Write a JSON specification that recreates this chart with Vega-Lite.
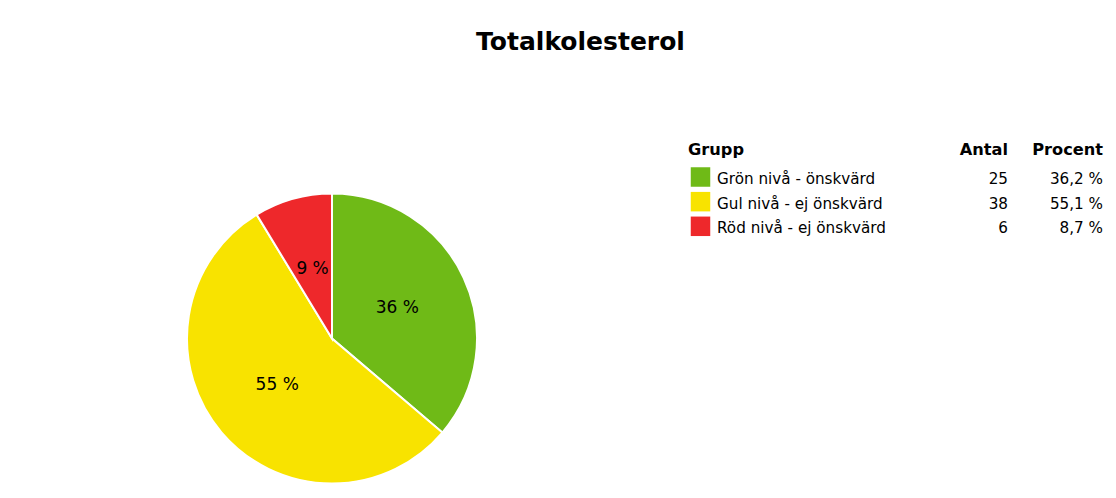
{
  "$schema": "https://vega.github.io/schema/vega-lite/v6.json",
  "description": "Totalkolesterol: pie chart with a table legend.",
  "width": 1116,
  "height": 498,
  "padding": 0,
  "autosize": {"type": "fit", "contains": "padding"},
  "background": "white",
  "config": {"view": {"stroke": null}, "text": {"font": "DejaVu Sans"}},
  "datasets": {
    "grupper": [
      {"grupp": "Grön nivå - önskvärd", "antal": 25, "procent": "36,2 %", "etikett": "36 %"},
      {"grupp": "Gul nivå - ej önskvärd", "antal": 38, "procent": "55,1 %", "etikett": "55 %"},
      {"grupp": "Röd nivå - ej önskvärd", "antal": 6, "procent": "8,7 %", "etikett": "9 %"}
    ],
    "rubriker": [
      {"grupp": "Grupp", "antal": "Antal", "procent": "Procent", "titel": "Totalkolesterol"}
    ]
  },
  "data": {"name": "grupper"},
  "layer": [
    {
      "mark": {"type": "arc", "x": 332, "y": 338.5, "outerRadius": 145, "stroke": "white", "strokeWidth": 2},
      "encoding": {
        "theta": {"field": "antal", "type": "quantitative", "stack": true},
        "color": {
          "field": "grupp",
          "type": "nominal",
          "scale": {
            "domain": ["Grön nivå - önskvärd", "Gul nivå - ej önskvärd", "Röd nivå - ej önskvärd"],
            "range": ["#6fba17", "#f8e300", "#ee282b"]
          },
          "legend": null
        }
      }
    },
    {
      "mark": {"type": "text", "x": 332, "y": 338.5, "radius": 72, "fontSize": 17, "color": "black", "align": "center", "baseline": "middle"},
      "encoding": {
        "theta": {"field": "antal", "type": "quantitative", "stack": true},
        "detail": {"field": "grupp", "type": "nominal"},
        "text": {"field": "etikett", "type": "nominal"}
      }
    },
    {
      "mark": {"type": "point", "shape": "square", "filled": true, "opacity": 1, "size": 380, "x": 700.5, "yOffset": -7},
      "encoding": {
        "y": {"field": "grupp", "type": "nominal", "scale": {"type": "point", "range": [184, 233.3], "padding": 0}, "axis": null},
        "color": {"field": "grupp", "type": "nominal", "legend": null}
      }
    },
    {
      "mark": {"type": "text", "x": 717, "align": "left", "baseline": "alphabetic", "fontSize": 15.2, "color": "black"},
      "encoding": {
        "y": {"field": "grupp", "type": "nominal"},
        "text": {"field": "grupp", "type": "nominal"}
      }
    },
    {
      "mark": {"type": "text", "x": 1008, "align": "right", "baseline": "alphabetic", "fontSize": 15.2, "color": "black"},
      "encoding": {
        "y": {"field": "grupp", "type": "nominal"},
        "text": {"field": "antal", "type": "quantitative"}
      }
    },
    {
      "mark": {"type": "text", "x": 1103, "align": "right", "baseline": "alphabetic", "fontSize": 15.2, "color": "black"},
      "encoding": {
        "y": {"field": "grupp", "type": "nominal"},
        "text": {"field": "procent", "type": "nominal"}
      }
    },
    {
      "data": {"name": "rubriker"},
      "layer": [
        {
          "mark": {"type": "text", "x": 580.5, "y": 50, "align": "center", "baseline": "alphabetic", "fontSize": 25, "fontWeight": "bold", "color": "black"},
          "encoding": {"text": {"field": "titel", "type": "nominal"}}
        },
        {
          "mark": {"type": "text", "x": 688, "y": 155, "align": "left", "baseline": "alphabetic", "fontSize": 16.2, "fontWeight": "bold", "color": "black"},
          "encoding": {"text": {"field": "grupp", "type": "nominal"}}
        },
        {
          "mark": {"type": "text", "x": 1008, "y": 155, "align": "right", "baseline": "alphabetic", "fontSize": 16.2, "fontWeight": "bold", "color": "black"},
          "encoding": {"text": {"field": "antal", "type": "nominal"}}
        },
        {
          "mark": {"type": "text", "x": 1103, "y": 155, "align": "right", "baseline": "alphabetic", "fontSize": 16.2, "fontWeight": "bold", "color": "black"},
          "encoding": {"text": {"field": "procent", "type": "nominal"}}
        }
      ]
    }
  ]
}
